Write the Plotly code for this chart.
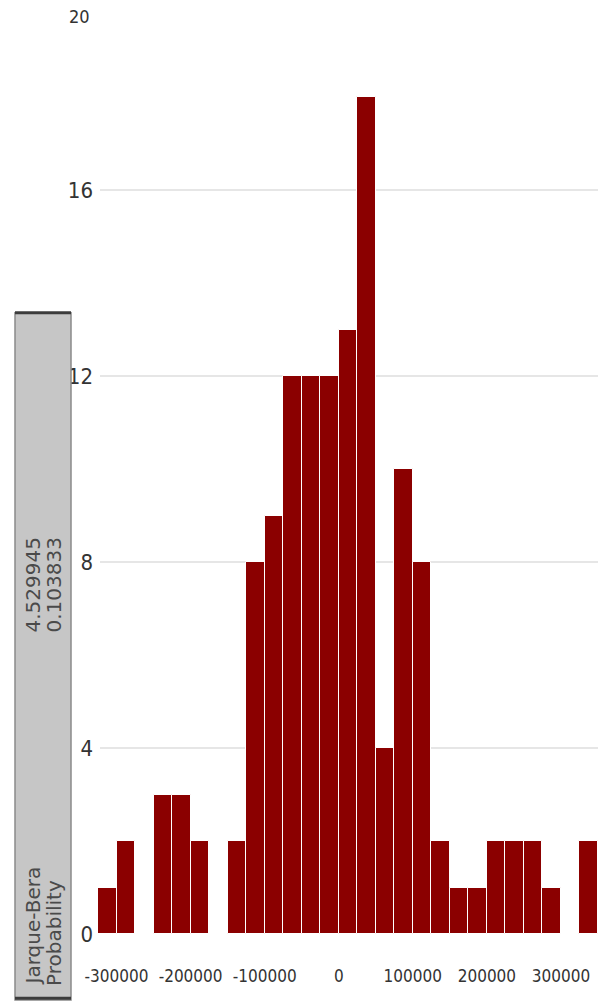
import plotly.graph_objects as go

# Histogram of residuals: bins of width 25000 starting at -325000
bin_start = -325000
bin_width = 25000
counts = [1, 2, 0, 3, 3, 2, 0, 2, 8, 9, 12, 12, 12, 13, 18, 4, 10, 8,
          2, 1, 1, 2, 2, 2, 1, 0, 2]
bin_centers = [bin_start + bin_width * (i + 0.5) for i in range(len(counts))]

x_ticks = [-300000, -200000, -100000, 0, 100000, 200000, 300000]
x_ticktext = [str(v) for v in x_ticks]
y_ticks = [0, 4, 8, 12, 16]
y_top_label = 20
grid_levels = [4, 8, 12, 16]

stats_labels = ["Jarque-Bera", "Probability"]
stats_values = ["4.529945", "0.103833"]

fig = go.Figure()
fig.add_trace(go.Bar(
    x=bin_centers,
    y=counts,
    width=bin_width,
    marker=dict(color="#8b0000", line=dict(color="#ffffff", width=1)),
    showlegend=False,
))

# light horizontal guides behind the bars
for g in grid_levels:
    fig.add_shape(type="line", xref="paper", x0=0.004, x1=1.0, yref="y", y0=g, y1=g,
                  line=dict(color="#dedede", width=1.5), layer="below")

tick_family = "DejaVu Sans Condensed, Liberation Sans Narrow, sans-serif"

# top axis label, hung just below the upper edge of the plot
fig.add_annotation(xref="paper", yref="y", x=-0.012, y=y_top_label,
                   text=str(y_top_label), showarrow=False,
                   xanchor="right", yanchor="top",
                   font=dict(family=tick_family, size=18, color="#333333"))

# statistics box on the left
fig.add_shape(type="rect", xref="paper", yref="paper",
              x0=-0.166, x1=-0.054, y0=-0.071, y1=0.668,
              fillcolor="#c6c6c6", line=dict(color="#8a8a8a", width=1.5), layer="above")
for yy in (0.668, -0.069):
    fig.add_shape(type="line", xref="paper", yref="paper",
                  x0=-0.166, x1=-0.054, y0=yy, y1=yy,
                  line=dict(color="#3c3c3c", width=3))

col_x = [-0.130, -0.088]
for cx, lab, val in zip(col_x, stats_labels, stats_values):
    fig.add_annotation(xref="paper", yref="paper", x=cx, y=-0.058,
                       text=lab, textangle=-90, showarrow=False,
                       xanchor="center", yanchor="bottom",
                       font=dict(family="DejaVu Sans", size=20, color="#4a4a4a"))
    fig.add_annotation(xref="paper", yref="paper", x=cx, y=0.428,
                       text=val, textangle=-90, showarrow=False,
                       xanchor="center", yanchor="top",
                       font=dict(family="DejaVu Sans", size=20, color="#4a4a4a"))

fig.update_xaxes(
    range=[-325000, 350000],
    tickvals=x_ticks, ticktext=x_ticktext,
    showgrid=False, zeroline=False, showline=False, ticks="",
    tickfont=dict(family=tick_family, size=17, color="#333333"),
    ticklabelstandoff=30,
)
fig.update_yaxes(
    range=[0, 20],
    tickvals=y_ticks,
    showgrid=False, zeroline=False, showline=False, ticks="",
    tickfont=dict(family=tick_family, size=22, color="#333333"),
    ticklabelstandoff=4,
)

fig.update_layout(
    width=599, height=1005,
    margin=dict(l=98, r=1, t=4, b=71),
    plot_bgcolor="#ffffff", paper_bgcolor="#ffffff",
    bargap=0,
)

fig.write_html("out.html")
